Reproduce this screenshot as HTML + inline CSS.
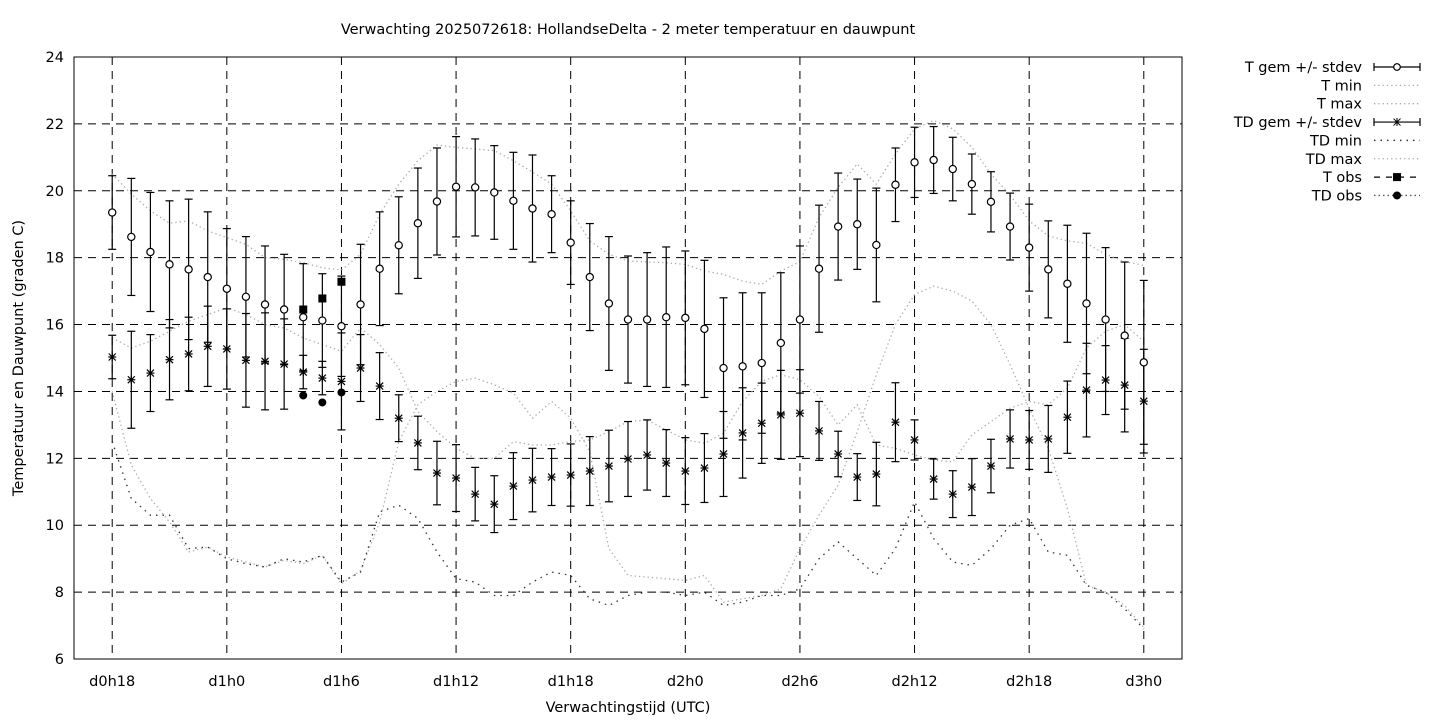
<!DOCTYPE html>
<html><head><meta charset="utf-8"><title>HollandseDelta chart</title>
<style>html,body{margin:0;padding:0;background:#fff}svg{display:block;font-family:"DejaVu Sans","Liberation Sans",sans-serif}</style>
</head><body>
<svg id="chart" width="1440" height="720" viewBox="0 0 1440 720" xmlns="http://www.w3.org/2000/svg">
<rect width="1440" height="720" fill="#fff"/>
<text x="628" y="34" font-size="14.5" text-anchor="middle">Verwachting 2025072618: HollandseDelta - 2 meter temperatuur en dauwpunt</text>
<text transform="translate(23,358) rotate(-90)" font-size="14.5" text-anchor="middle">Temperatuur en Dauwpunt (graden C)</text>
<text x="628" y="712" font-size="14.5" text-anchor="middle">Verwachtingstijd (UTC)</text>
<g id="grid"></g>
<g id="series"></g>
<rect x="74" y="57" width="1108" height="602" fill="none" stroke="#000" stroke-width="1"/>
<g id="legend"></g>
</svg>
<script>
const yTicks = [6,8,10,12,14,16,18,20,22,24];
const xTickHours = [0,6,12,18,24,30,36,42,48,54];
const xTickLabels = ["d0h18","d1h0","d1h6","d1h12","d1h18","d2h0","d2h6","d2h12","d2h18","d3h0"];
const tMean = [19.35,18.62,18.17,17.8,17.65,17.42,17.07,16.83,16.6,16.45,16.22,16.12,15.95,16.6,17.67,18.37,19.03,19.68,20.12,20.1,19.95,19.7,19.47,19.3,18.45,17.42,16.63,16.15,16.15,16.22,16.2,15.87,14.7,14.75,14.85,15.45,16.15,17.67,18.93,19.0,18.38,20.18,20.85,20.92,20.65,20.2,19.67,18.93,18.3,17.65,17.22,16.63,16.15,15.67,14.87];
const tSd = [1.1,1.75,1.78,1.9,2.1,1.95,1.8,1.8,1.75,1.65,1.6,1.4,1.5,1.8,1.7,1.45,1.65,1.6,1.5,1.45,1.4,1.45,1.6,1.15,1.25,1.6,2.0,1.9,2.0,2.1,2.0,2.05,2.1,2.2,2.1,2.1,2.2,1.9,1.6,1.35,1.7,1.1,1.05,1.0,0.95,0.9,0.9,1.0,1.3,1.45,1.75,2.1,2.15,2.2,2.45];
const tdMean = [15.03,14.35,14.55,14.95,15.12,15.35,15.27,14.93,14.9,14.82,14.58,14.4,14.3,14.7,14.16,13.2,12.46,11.56,11.41,10.93,10.63,11.17,11.35,11.44,11.5,11.62,11.77,11.98,12.1,11.86,11.62,11.71,12.13,12.76,13.05,13.3,13.35,12.82,12.13,11.44,11.53,13.08,12.55,11.38,10.93,11.14,11.77,12.58,12.55,12.58,13.23,14.04,14.34,14.19,13.71];
const tdSd = [0.65,1.45,1.15,1.2,1.1,1.2,1.2,1.4,1.45,1.35,0.5,0.5,1.45,1.0,1.0,0.7,0.8,0.95,1.0,0.8,0.85,1.0,0.95,0.85,0.93,1.03,1.07,1.12,1.05,1.0,1.0,1.03,1.27,1.35,1.2,1.33,1.3,0.88,0.68,0.7,0.95,1.18,0.6,0.6,0.7,0.85,0.8,0.87,0.88,1.0,1.08,1.4,1.03,1.4,1.55];
const tMin = [15.6,15.3,15.5,15.8,16.1,16.3,16.5,16.3,16.0,15.9,15.6,15.4,15.2,15.9,15.4,14.7,13.4,12.8,12.3,12.0,12.0,12.5,12.4,12.4,12.5,12.55,12.8,13.1,13.15,12.85,12.55,12.45,12.75,13.7,14.3,14.5,14.35,13.85,13.0,13.6,12.4,12.3,12.1,11.95,11.9,12.7,13.1,13.5,13.7,13.6,14.1,15.3,15.8,16.0,15.5];
const tMax = [20.5,19.9,19.4,19.03,19.1,18.8,18.6,18.4,18.0,17.95,17.85,17.7,17.63,18.1,19.3,20.2,20.9,21.37,21.3,21.25,21.2,20.9,20.56,20.2,19.4,18.5,18.1,17.9,17.87,17.85,17.8,17.6,17.5,17.3,17.2,17.6,17.88,19.2,20.1,20.8,20.2,21.1,21.85,22.1,21.85,21.3,20.5,19.87,19.1,18.65,18.5,18.43,18.1,17.88,17.77];
const tdMin = [12.5,10.8,10.3,10.3,9.3,9.35,9.0,8.85,8.75,9.0,8.9,9.1,8.3,8.6,10.4,10.6,10.2,9.2,8.4,8.3,7.9,7.9,8.3,8.6,8.5,7.8,7.6,7.9,8.0,8.0,7.9,8.0,7.6,7.7,7.9,7.9,8.1,9.0,9.5,9.0,8.5,9.3,10.7,9.6,8.9,8.8,9.3,10.0,10.2,9.2,9.1,8.2,8.0,7.5,6.9];
const tdMax = [14.0,11.8,10.8,10.1,9.2,9.35,9.05,8.9,8.75,8.95,8.85,9.1,8.25,8.65,10.1,12.5,13.6,14.0,14.3,14.4,14.2,13.95,13.2,13.7,13.2,12.2,9.3,8.5,8.45,8.4,8.35,8.5,7.7,7.8,7.9,8.1,9.3,10.3,11.2,12.8,14.5,16.0,16.9,17.15,17.0,16.7,16.0,14.8,13.5,12.3,10.5,8.2,8.0,7.6,6.95];
const obsHours = [10,11,12];
const tObs = [16.45,16.78,17.28];
const tdObs = [13.88,13.67,13.97];

const NS = "http://www.w3.org/2000/svg";
const X0 = 74, X1 = 1182, Y0 = 57, Y1 = 659;
const HMIN = -2, HMAX = 56, VMIN = 6, VMAX = 24;
function xs(h){ return X0 + (h - HMIN) / (HMAX - HMIN) * (X1 - X0); }
function ys(v){ return Y1 - (v - VMIN) / (VMAX - VMIN) * (Y1 - Y0); }
function mk(tag, attrs, parent){ const e = document.createElementNS(NS, tag); for (const k in attrs) e.setAttribute(k, attrs[k]); parent.appendChild(e); return e; }

const grid = document.getElementById('grid');
yTicks.forEach((v) => {
  const y = ys(v);
  if (v > VMIN && v < VMAX) {
    const gl = mk('line', {x1:X0, x2:X1, y1:y, y2:y, stroke:'#000', 'stroke-width':1, 'stroke-dasharray':'8,6'}, grid);
    
    
  }
  const t = mk('text', {x:X0 - 10, y:y + 5, 'font-size':14.5, 'text-anchor':'end'}, grid);
  t.textContent = v;
  
  
});
xTickHours.forEach((h, i) => {
  const x = xs(h);
  const gl = mk('line', {x1:x, x2:x, y1:Y0, y2:Y1, stroke:'#000', 'stroke-width':1, 'stroke-dasharray':'8,6'}, grid);
  
  
  const t = mk('text', {x:x, y:686, 'font-size':14.5, 'text-anchor':'middle'}, grid);
  t.textContent = xTickLabels[i];
  
  
});

const series = document.getElementById('series');
function dotted(arr, color, name, dash){
  const pts = arr.map((v, i) => xs(i).toFixed(1) + ',' + ys(v).toFixed(1)).join(' ');
  const p = mk('polyline', {points:pts, fill:'none', stroke:color, 'stroke-width':1.3, 'stroke-dasharray':dash}, series);
  
  
}
dotted(tMin, '#aaa', 't-min-line', '1.3,3');
dotted(tMax, '#aaa', 't-max-line', '1.3,3');
dotted(tdMax, '#aaa', 'td-max-line', '1.3,3');
dotted(tdMin, '#333', 'td-min-line', '1.5,5');

function errbar(i, m, s, name){
  const x = xs(i), yt = ys(m + s), yb = ys(m - s);
  const g = mk('g', {stroke:'#000', 'stroke-width':1.2}, series);
  
  
  mk('line', {x1:x, x2:x, y1:yt, y2:yb}, g);
  mk('line', {x1:x-4, x2:x+4, y1:yt, y2:yt}, g);
  mk('line', {x1:x-4, x2:x+4, y1:yb, y2:yb}, g);
}
tdMean.forEach((m, i) => {
  errbar(i, m, tdSd[i], 'td-errorbar');
  const x = xs(i), y = ys(m);
  const g = mk('g', {stroke:'#000', 'stroke-width':1.2}, series);
  
  
  mk('line', {x1:x-3.5, x2:x+3.5, y1:y-3.5, y2:y+3.5}, g);
  mk('line', {x1:x-3.5, x2:x+3.5, y1:y+3.5, y2:y-3.5}, g);
  mk('line', {x1:x, x2:x, y1:y-4, y2:y+4}, g);
  mk('line', {x1:x-4, x2:x+4, y1:y, y2:y}, g);
});
tMean.forEach((m, i) => {
  errbar(i, m, tSd[i], 't-errorbar');
  const c = mk('circle', {cx:xs(i), cy:ys(m), r:3.6, fill:'#fff', stroke:'#000', 'stroke-width':1.2}, series);
  
  
});
obsHours.forEach((h, k) => {
  const x = xs(h);
  const r = mk('rect', {x:x-4, y:ys(tObs[k])-4, width:8, height:8, fill:'#000'}, series);
  
  
  const c = mk('circle', {cx:x, cy:ys(tdObs[k]), r:4, fill:'#000'}, series);
  
  
});

const legendLabels = ["T gem +/- stdev","T min","T max","TD gem +/- stdev","TD min","TD max","T obs","TD obs"];
const legend = document.getElementById('legend');
legendLabels.forEach((lab, k) => {
  const y = 67 + k * 18.35;
  const g = mk('g', {}, legend);
  
  
  const t = mk('text', {x:1362, y:y + 5, 'font-size':14.5, 'text-anchor':'end'}, g);
  t.textContent = lab;
  const xa = 1374, xb = 1420, xm = 1397;
  if (k === 0 || k === 3) {
    mk('line', {x1:xa, x2:xb, y1:y, y2:y, stroke:'#000', 'stroke-width':1.2}, g);
    mk('line', {x1:xa, x2:xa, y1:y-4, y2:y+4, stroke:'#000', 'stroke-width':1.2}, g);
    mk('line', {x1:xb, x2:xb, y1:y-4, y2:y+4, stroke:'#000', 'stroke-width':1.2}, g);
    if (k === 0) mk('circle', {cx:xm, cy:y, r:3.3, fill:'#fff', stroke:'#000', 'stroke-width':1.2}, g);
    else { mk('line', {x1:xm-3.5, x2:xm+3.5, y1:y-3.5, y2:y+3.5, stroke:'#000'}, g); mk('line', {x1:xm-3.5, x2:xm+3.5, y1:y+3.5, y2:y-3.5, stroke:'#000'}, g); mk('line', {x1:xm, x2:xm, y1:y-4, y2:y+4, stroke:'#000'}, g); }
  } else if (k === 4) {
    mk('line', {x1:xa, x2:xb, y1:y, y2:y, stroke:'#333', 'stroke-width':1.5, 'stroke-dasharray':'1.5,5'}, g);
  } else if (k === 6) {
    mk('line', {x1:xa, x2:xb, y1:y, y2:y, stroke:'#000', 'stroke-width':1.2, 'stroke-dasharray':'6,6'}, g);
    mk('rect', {x:xm-4, y:y-4, width:8, height:8, fill:'#000'}, g);
  } else if (k === 7) {
    mk('line', {x1:xa, x2:xb, y1:y, y2:y, stroke:'#555', 'stroke-width':1.3, 'stroke-dasharray':'1.5,3'}, g);
    mk('circle', {cx:xm, cy:y, r:4, fill:'#000'}, g);
  } else {
    mk('line', {x1:xa, x2:xb, y1:y, y2:y, stroke:'#aaa', 'stroke-width':1.3, 'stroke-dasharray':'1.3,3'}, g);
  }
});
</script>
</body></html>
